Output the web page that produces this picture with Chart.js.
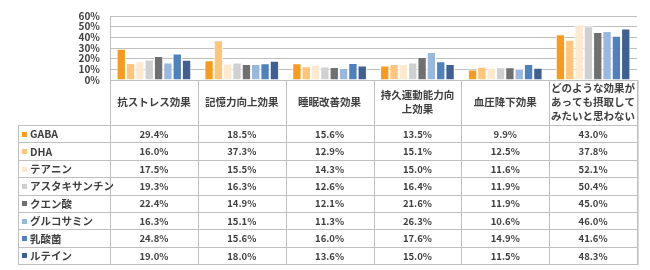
<!DOCTYPE html>
<html>
<head>
<meta charset="utf-8">
<script src="https://cdn.jsdelivr.net/npm/chart.js@4"></script>
<style>
  body { margin: 0; background: #fff; }
  #chart { display: block; }
</style>
</head>
<body>
<canvas id="chart" width="650" height="270"></canvas>
<script>
// categories (header cells, split into lines as in the table)
var categories = [
  ['抗ストレス効果'],
  ['記憶力向上効果'],
  ['睡眠改善効果'],
  ['持久運動能力向', '上効果'],
  ['血圧降下効果'],
  ['どのような効果が', 'あっても摂取して', 'みたいと思わない']
];

var seriesNames = ['GABA', 'DHA', 'テアニン', 'アスタキサンチン', 'クエン酸', 'グルコサミン', '乳酸菌', 'ルテイン'];

var gaba      = [29.4, 18.5, 15.6, 13.5, 9.9, 43.0];
var dha       = [16.0, 37.3, 12.9, 15.1, 12.5, 37.8];
var theanine  = [17.5, 15.5, 14.3, 15.0, 11.6, 52.1];
var astaxan   = [19.3, 16.3, 12.6, 16.4, 11.9, 50.4];
var citric    = [22.4, 14.9, 12.1, 21.6, 11.9, 45.0];
var glucosam  = [16.3, 15.1, 11.3, 26.3, 10.6, 46.0];
var lactic    = [24.8, 15.6, 16.0, 17.6, 14.9, 41.6];
var lutein    = [19.0, 18.0, 13.6, 15.0, 11.5, 48.3];

var yTicks = [0, 10, 20, 30, 40, 50, 60];

var seriesValues = [gaba, dha, theanine, astaxan, citric, glucosam, lactic, lutein];
var colors = ['#F79B1E', '#FFC57A', '#FDE8D0', '#D0D0D0', '#707070', '#98B8DF', '#4F81BD', '#3F6090'];

var jpFont = '"Noto Sans CJK JP", "Noto Sans", sans-serif';
var textColor = '#404040';
var lineColor = '#BFBFBF';

// table below the plot, columns taken from the x scale
var tablePlugin = {
  id: 'dataTable',
  afterDraw: function(chart) {
    var ctx = chart.ctx;
    var area = chart.chartArea;
    var xs = chart.scales.x;
    var n = categories.length;
    var headTop = area.bottom;
    var headBottom = 125;
    var rowH = 17.4;
    var tableLeft = 18;
    var tableBottom = headBottom + rowH * seriesNames.length;

    // column bounds from the category scale
    var bounds = [];
    for (var i = 0; i <= n; i++) {
      if (i === 0) bounds.push(area.left);
      else if (i === n) bounds.push(area.right);
      else bounds.push((xs.getPixelForValue(i - 1) + xs.getPixelForValue(i)) / 2);
    }

    ctx.save();
    ctx.strokeStyle = lineColor;
    ctx.lineWidth = 1;

    // vertical lines
    for (var b = 0; b < bounds.length; b++) {
      var bx = Math.round(bounds[b]) + 0.5;
      ctx.beginPath();
      ctx.moveTo(bx, headTop);
      ctx.lineTo(bx, tableBottom);
      ctx.stroke();
    }
    ctx.beginPath();
    ctx.moveTo(tableLeft + 0.5, headBottom);
    ctx.lineTo(tableLeft + 0.5, tableBottom);
    ctx.stroke();

    // horizontal lines
    for (var r = 0; r <= seriesNames.length; r++) {
      var ry = Math.round(headBottom + r * rowH) + 0.5;
      ctx.beginPath();
      ctx.moveTo(tableLeft, ry);
      ctx.lineTo(area.right + 1, ry);
      ctx.stroke();
    }

    // soft shadow on the right edge
    ctx.strokeStyle = '#D9D9D9';
    ctx.beginPath();
    ctx.moveTo(Math.round(area.right) + 1.5, headTop);
    ctx.lineTo(Math.round(area.right) + 1.5, tableBottom + 1);
    ctx.stroke();

    // header text
    ctx.fillStyle = textColor;
    ctx.textAlign = 'center';
    ctx.textBaseline = 'middle';
    ctx.font = 'bold 10.5px ' + jpFont;
    var lh = 14;
    for (var c = 0; c < n; c++) {
      var cx = (bounds[c] + bounds[c + 1]) / 2;
      var lines = categories[c];
      var cy = (headTop + headBottom) / 2 - (lines.length - 1) * lh / 2;
      for (var l = 0; l < lines.length; l++) {
        ctx.fillText(lines[l], cx, cy + l * lh);
      }
    }

    // rows
    for (var s = 0; s < seriesNames.length; s++) {
      var yMid = headBottom + s * rowH + rowH / 2 + 0.5;
      ctx.fillStyle = colors[s];
      ctx.fillRect(22, Math.round(yMid - 2.5), 5, 5);
      ctx.fillStyle = textColor;
      ctx.textAlign = 'left';
      ctx.font = 'bold 10.5px ' + jpFont;
      ctx.fillText(seriesNames[s], 30, yMid);
      ctx.textAlign = 'center';
      ctx.font = 'bold 9.5px ' + jpFont;
      for (var k = 0; k < n; k++) {
        var vx = (bounds[k] + bounds[k + 1]) / 2;
        ctx.fillText(seriesValues[s][k].toFixed(1) + '%', vx, yMid);
      }
    }
    ctx.restore();
  }
};

var datasets = seriesNames.map(function(name, i) {
  return {
    label: name,
    data: seriesValues[i],
    backgroundColor: colors[i],
    borderColor: '#FFFFFF',
    borderWidth: 1,
    barPercentage: 1.0,
    categoryPercentage: 0.85
  };
});

var myBarChart = new Chart(document.getElementById('chart'), {
  type: 'bar',
  data: {
    labels: categories.map(function(c) { return c.join(''); }),
    datasets: datasets
  },
  options: {
    responsive: false,
    animation: false,
    devicePixelRatio: 1,
    layout: { padding: { top: 12, right: 13, left: 0, bottom: 0 } },
    plugins: {
      legend: { display: false },
      tooltip: { enabled: false }
    },
    scales: {
      x: {
        grid: { display: false },
        border: { display: false },
        ticks: { display: false },
        afterFit: function(scale) { scale.height = 190; }
      },
      y: {
        min: 0,
        max: 60,
        afterBuildTicks: function(scale) {
          scale.ticks = yTicks.map(function(v) { return { value: v }; });
        },
        grid: { color: lineColor, lineWidth: 1, drawTicks: false },
        border: { color: lineColor },
        ticks: {
          autoSkip: false,
          padding: 10,
          color: textColor,
          font: { family: jpFont, size: 10, weight: 'bold' },
          callback: function(v) { return v + '%'; }
        },
        afterFit: function(scale) { scale.width = 110; }
      }
    }
  },
  plugins: [tablePlugin]
});
</script>
</body>
</html>
